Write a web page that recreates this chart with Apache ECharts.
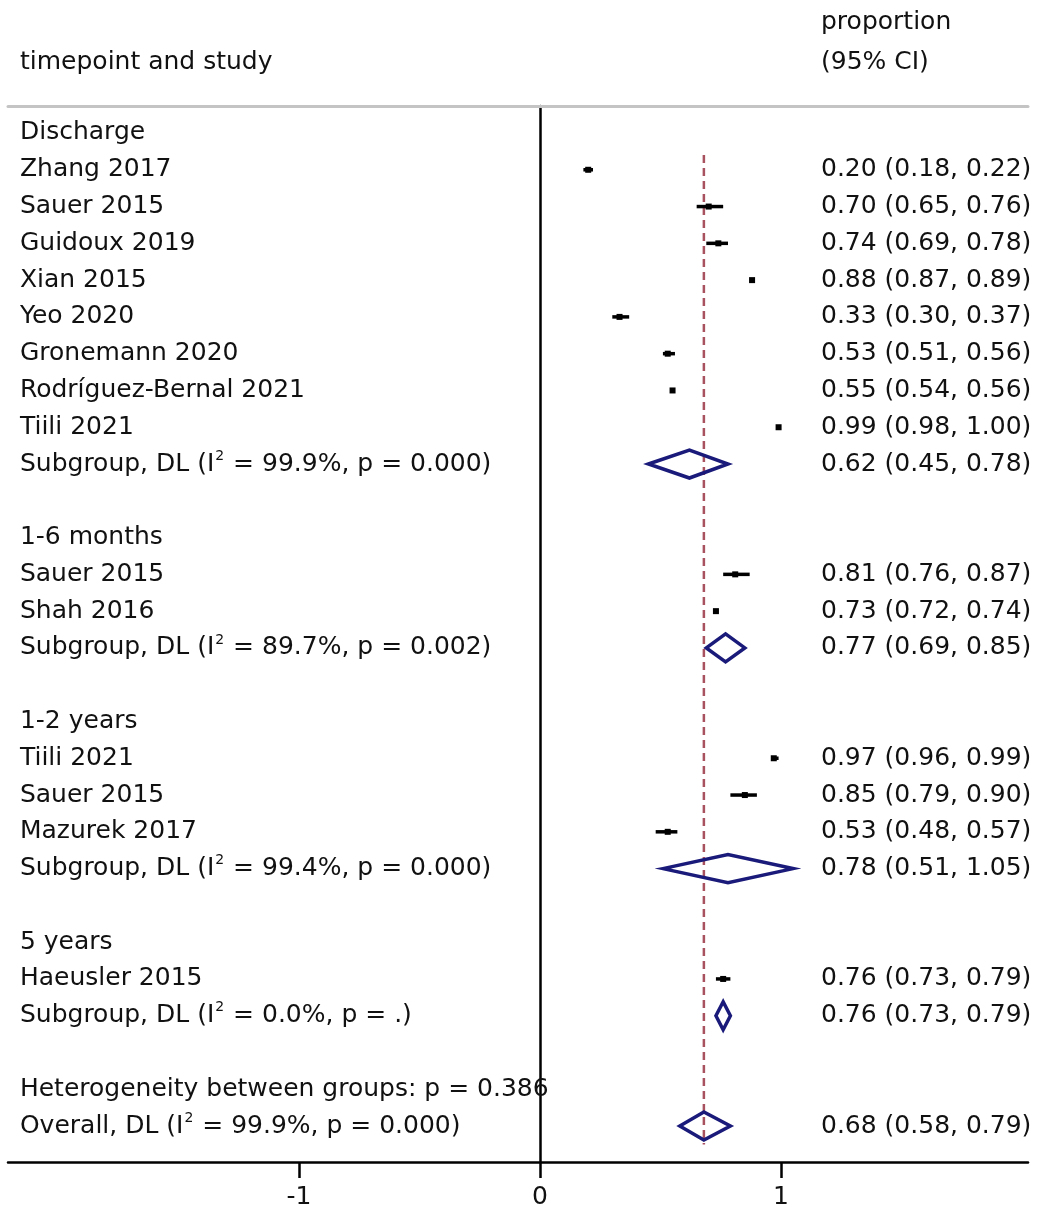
<!DOCTYPE html>
<html>
<head>
<meta charset="utf-8">
<script src="https://cdn.jsdelivr.net/npm/echarts@6/dist/echarts.min.js"></script>
<style>
  html, body { margin: 0; padding: 0; background: #fff; }
  #forest { width: 1037px; height: 1215px; }
</style>
</head>
<body>
<div id="forest"></div>
<script>
// rows, top to bottom (blank rows are gaps between groups)
const labels = [
  'Discharge',
  'Zhang 2017',
  'Sauer 2015',
  'Guidoux 2019',
  'Xian 2015',
  'Yeo 2020',
  'Gronemann 2020',
  'Rodríguez-Bernal 2021',
  'Tiili 2021',
  'Subgroup, DL (I{sup|2} = 99.9%, p = 0.000)',
  '',
  '1-6 months',
  'Sauer 2015',
  'Shah 2016',
  'Subgroup, DL (I{sup|2} = 89.7%, p = 0.002)',
  '',
  '1-2 years',
  'Tiili 2021',
  'Sauer 2015',
  'Mazurek 2017',
  'Subgroup, DL (I{sup|2} = 99.4%, p = 0.000)',
  '',
  '5 years',
  'Haeusler 2015',
  'Subgroup, DL (I{sup|2} = 0.0%, p = .)',
  '',
  'Heterogeneity between groups: p = 0.386',
  'Overall, DL (I{sup|2} = 99.9%, p = 0.000)'
];

// single studies
const studyRow = [1, 2, 3, 4, 5, 6, 7, 8, 12, 13, 17, 18, 19, 23];
const studyEst = [0.20, 0.70, 0.74, 0.88, 0.33, 0.53, 0.55, 0.99, 0.81, 0.73, 0.97, 0.85, 0.53, 0.76];
const studyLo  = [0.18, 0.65, 0.69, 0.87, 0.30, 0.51, 0.54, 0.98, 0.76, 0.72, 0.96, 0.79, 0.48, 0.73];
const studyHi  = [0.22, 0.76, 0.78, 0.89, 0.37, 0.56, 0.56, 1.00, 0.87, 0.74, 0.99, 0.90, 0.57, 0.79];

// pooled estimates (subgroups + overall)
const poolRow = [9, 14, 20, 24, 27];
const poolEst = [0.62, 0.77, 0.78, 0.76, 0.68];
const poolLo  = [0.45, 0.69, 0.51, 0.73, 0.58];
const poolHi  = [0.78, 0.85, 1.05, 0.79, 0.79];

const xTicks = [-1, 0, 1];

const overallEst = poolEst[poolEst.length - 1];

const FONT = 'DejaVu Sans';
const LABEL_X = -2.158;   // left text column, in x units
const CI_X = 1.166;       // right text column

const ciText = [];
labels.forEach(function () { ciText.push(''); });
studyRow.forEach(function (r, i) {
  ciText[r] = studyEst[i].toFixed(2) + ' (' + studyLo[i].toFixed(2) + ', ' + studyHi[i].toFixed(2) + ')';
});
poolRow.forEach(function (r, i) {
  ciText[r] = poolEst[i].toFixed(2) + ' (' + poolLo[i].toFixed(2) + ', ' + poolHi[i].toFixed(2) + ')';
});

const richSup = {
  sup: { fontSize: 14, fontFamily: FONT, verticalAlign: 'top', lineHeight: 12, padding: [0, 1, 0, 1] }
};

function textItem(xv, texts) {
  return function (params, api) {
    const p = api.coord([xv, api.value(0)]);
    return {
      type: 'text',
      x: p[0], y: p[1],
      style: {
        text: texts[params.dataIndex],
        fontSize: 25, fontFamily: FONT, fill: '#111',
        align: 'left', verticalAlign: 'middle',
        lineHeight: 30,
        rich: richSup
      }
    };
  };
}

let chart = echarts.init(document.getElementById('forest'));

chart.setOption({
  animation: false,
  backgroundColor: '#fff',
  graphic: [
    { type: 'text', left: 20, top: 50, style: { text: 'timepoint and study', fontSize: 25, fontFamily: FONT, fill: '#111' } },
    { type: 'text', left: 821, top: 10, style: { text: 'proportion', fontSize: 25, fontFamily: FONT, fill: '#111' } },
    { type: 'text', left: 821, top: 50, style: { text: '(95% CI)', fontSize: 25, fontFamily: FONT, fill: '#111' } }
  ],
  grid: { left: 8, right: 9, top: 106, bottom: 53, containLabel: false },
  xAxis: [
    {
      type: 'value', position: 'bottom',
      min: -2.2075, max: 2.0249,
      axisLine: { onZero: false, lineStyle: { color: '#000', width: 2.5 } },
      axisTick: { show: true, customValues: xTicks, length: 16, lineStyle: { color: '#000', width: 2.5 } },
      axisLabel: { customValues: xTicks, fontSize: 25, fontFamily: FONT, color: '#111', margin: 23 },
      splitLine: { show: false }
    },
    {
      type: 'value', position: 'top',
      min: -2.2075, max: 2.0249,
      axisLine: { onZero: false, lineStyle: { color: '#c4c4c4', width: 3 } },
      axisTick: { show: false }, axisLabel: { show: false }, splitLine: { show: false }
    }
  ],
  yAxis: {
    type: 'value', inverse: true,
    min: -0.734, max: 27.977,
    axisLine: { show: true, onZero: true, lineStyle: { color: '#000', width: 2.5 } },
    axisTick: { show: false }, axisLabel: { show: false }, splitLine: { show: false }
  },
  series: [
    {
      // dashed reference line at overall estimate
      type: 'custom', name: 'overall line',
      data: [[overallEst]],
      renderItem: function (params, api) {
        const a = api.coord([api.value(0), 0.6]);
        const b = api.coord([api.value(0), 27.5]);
        return {
          type: 'line',
          shape: { x1: a[0], y1: a[1], x2: b[0], y2: b[1] },
          style: { stroke: '#a9525f', lineWidth: 2.5, lineDash: [8, 5] }
        };
      }
    },
    {
      // study CI + square
      type: 'custom', name: 'studies',
      data: studyRow.map(function (r, i) { return [r, studyEst[i], studyLo[i], studyHi[i]]; }),
      renderItem: function (params, api) {
        const row = api.value(0);
        const c = api.coord([api.value(1), row]);
        const l = api.coord([api.value(2), row]);
        const h = api.coord([api.value(3), row]);
        const s = 6;
        return {
          type: 'group',
          children: [
            { type: 'line', shape: { x1: l[0], y1: l[1], x2: h[0], y2: h[1] }, style: { stroke: '#000', lineWidth: 3.5 } },
            { type: 'rect', shape: { x: c[0] - s / 2, y: c[1] - s / 2, width: s, height: s }, style: { fill: '#000' } }
          ]
        };
      }
    },
    {
      // pooled diamonds
      type: 'custom', name: 'pooled',
      data: poolRow.map(function (r, i) { return [r, poolEst[i], poolLo[i], poolHi[i]]; }),
      renderItem: function (params, api) {
        const row = api.value(0);
        const c = api.coord([api.value(1), row]);
        const l = api.coord([api.value(2), row]);
        const h = api.coord([api.value(3), row]);
        const hh = 14;
        return {
          type: 'polygon',
          shape: { points: [[l[0], l[1]], [c[0], c[1] - hh], [h[0], h[1]], [c[0], c[1] + hh]] },
          style: { fill: 'none', stroke: '#1a1a7a', lineWidth: 3.5, lineJoin: 'miter' }
        };
      }
    },
    {
      type: 'custom', name: 'labels',
      data: labels.map(function (t, i) { return [i]; }),
      renderItem: textItem(LABEL_X, labels)
    },
    {
      type: 'custom', name: 'ci text',
      data: labels.map(function (t, i) { return [i]; }),
      renderItem: textItem(CI_X, ciText)
    }
  ]
});
</script>
</body>
</html>
